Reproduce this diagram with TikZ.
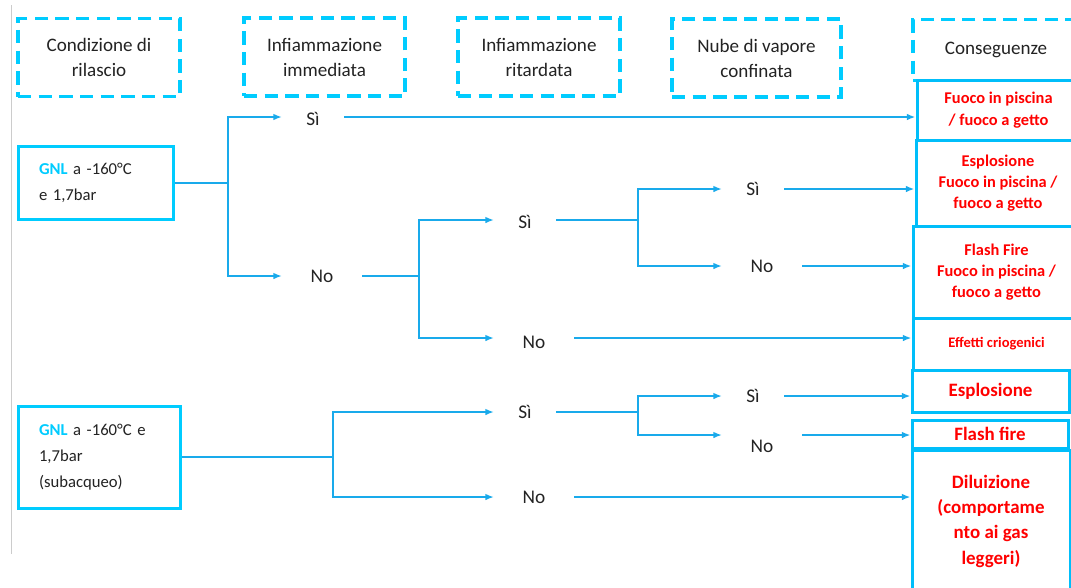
\documentclass[tikz,border=0pt]{standalone}
\usepackage{fontspec}
\setmainfont{Carlito}
\usetikzlibrary{arrows.meta}

\definecolor{dashcyan}{RGB}{0,204,255}
\definecolor{boxcyan}{RGB}{0,190,250}
\definecolor{arrcyan}{RGB}{25,170,235}
\definecolor{outred}{RGB}{255,0,0}
\definecolor{txtgray}{RGB}{35,35,35}

\newcommand{\hdsize}{\fontsize{14.3}{18.75}\selectfont}
\newcommand{\srcsize}{\fontsize{12.5}{19.5}\selectfont}
\newcommand{\labsize}{\fontsize{14.5}{16}\selectfont}
\newcommand{\outmid}{\bfseries\fontsize{12.3}{16}\selectfont}
\newcommand{\outsmall}{\bfseries\fontsize{10.9}{13}\selectfont}
\newcommand{\outbig}{\bfseries\fontsize{14.2}{19}\selectfont}

\begin{document}
\begin{tikzpicture}[x=0.75pt,y=-0.75pt,
   head/.style={rectangle,draw=dashcyan,line width=2.5pt,
    dash pattern=on 10pt off 5.5pt,minimum height=58.5pt,
    inner sep=0pt,align=center,text=txtgray,font=\hdsize},
   src/.style={rectangle,draw=dashcyan,line width=2.25pt,
    inner sep=0pt,align=left,text=txtgray,font=\srcsize},
   outbox/.style={rectangle,draw=boxcyan,line width=2.25pt,
    inner sep=1pt,align=center,text=outred},
   lab/.style={inner sep=0pt,outer sep=0pt,anchor=west,
    text=txtgray,font=\labsize},
   lsi/.style={lab,minimum width=46.5pt},
   lno/.style={lab,minimum width=60pt},
   conn/.style={draw=arrcyan,line width=1.5pt},
   arr/.style={conn,-{Latex[length=6.5pt,width=5pt]}}
    ]

    \useasboundingbox[fill=white] (0,0) rectangle (1071,587);

    % margin line
    \draw[black!20,line width=0.75pt] (11,5) -- (11,554);

    % Headers:
    \node[head,minimum width=121.5pt] at (99,57.5) (h1) {Condizione di\\rilascio};
    \node[head,minimum width=120.75pt] at (324.5,57) (h2) {Infiammazione\\immediata};
    \node[head,minimum width=121.5pt] at (539,57) (h3) {Infiammazione\\ritardata};
    \node[head,minimum width=126.75pt] at (756.5,58) (h4) {Nube di vapore\\confinata};
    \node[head,minimum width=124.5pt,minimum height=45.75pt] at (996,50) (h5) {Conseguenze};

    % Release boxes:
    \node[src,minimum width=116.25pt,minimum height=54.75pt,text width=85.5pt]
      at (96,182.5) (g1) {\textbf{\textcolor{dashcyan}{GNL}} a -160°C\\e 1,7bar};
    \node[src,minimum width=121.5pt,minimum height=76.5pt,text width=90pt]
      at (99,457) (g2) {\textbf{\textcolor{dashcyan}{GNL}} a -160°C e\\1,7bar\\(subacqueo)};

    % Consequences:
    \node[outbox,font=\outmid,minimum width=122.25pt,minimum height=45pt]
      at (998.5,110) (c1) {Fuoco in piscina\\/ fuoco a getto};
    \node[outbox,font=\outmid,minimum width=123pt,minimum height=64.5pt]
      at (998,183) (c2) {Esplosione\\Fuoco in piscina /\\fuoco a getto};
    \node[outbox,font=\outmid,minimum width=125.25pt,minimum height=69pt]
      at (996.5,272) (c3) {Flash Fire\\Fuoco in piscina /\\fuoco a getto};
    \node[outbox,font=\outsmall,minimum width=125.25pt,minimum height=39pt]
      at (996.5,344) (c4) {Effetti criogenici};
    \node[outbox,font=\outbig,minimum width=117.75pt,minimum height=31.5pt]
      at (990.5,391) (c5) {Esplosione};
    \node[outbox,font=\outbig,minimum width=117pt,minimum height=21pt]
      at (990,434) (c6) {Flash fire};
    \node[outbox,font=\outbig,minimum width=118.5pt,minimum height=106.5pt]
      at (991,521) (c7) {Diluizione\\(comportame\\nto ai gas\\leggeri)};

    % Yes / no labels
    \node[lsi,text height=13pt] at (282,117) (si1) {Sì};
    \node[lno] at (282,276) (no1) {No};
    \node[lsi,text height=13pt] at (494,220) (si2) {Sì};
    \node[lno,text height=16.5pt] at (494,338) (no2) {No};
    \node[lsi] at (722,189) (si3) {Sì};
    \node[lno] at (722,266) (no3) {No};
    \node[lsi] at (494,412) (si4) {Sì};
    \node[lno] at (494,497) (no4) {No};
    \node[lsi] at (722,396) (si5) {Sì};
    \node[lno,text height=27pt] at (722,435) (no5) {No};

    % junctions
    \coordinate (j1) at (228,182.5);
    \coordinate (j2) at (419,276);
    \coordinate (j3) at (638,220);
    \coordinate (j4) at (333,457);
    \coordinate (j5) at (638,412);

    % arrows, upper tree
    \draw[conn] (g1.east) -- (j1);
    \draw[arr] (j1) |- (si1.west);
    \draw[arr] (j1) |- (no1.west);
    \draw[arr] (si1.east) -- (si1.east -| c1.west);
    \draw[conn] (no1.east) -- (j2);
    \draw[arr] (j2) |- (si2.west);
    \draw[arr] (j2) |- (no2.west);
    \draw[arr] (no2.east) -- (no2.east -| c4.west);
    \draw[conn] (si2.east) -- (j3);
    \draw[arr] (j3) |- (si3.west);
    \draw[arr] (j3) |- (no3.west);
    \draw[arr] (si3.east) -- (si3.east -| c2.west);
    \draw[arr] (no3.east) -- (no3.east -| c3.west);

    % arrows, lower tree
    \draw[conn] (g2.east) -- (j4);
    \draw[arr] (j4) |- (si4.west);
    \draw[arr] (j4) |- (no4.west);
    \draw[arr] (no4.east) -- (no4.east -| c7.west);
    \draw[conn] (si4.east) -- (j5);
    \draw[arr] (j5) |- (si5.west);
    \draw[arr] (j5) |- (no5.west);
    \draw[arr] (si5.east) -- (si5.east -| c5.west);
    \draw[arr] (no5.east) -- (no5.east -| c6.west);

\end{tikzpicture}
\end{document}
